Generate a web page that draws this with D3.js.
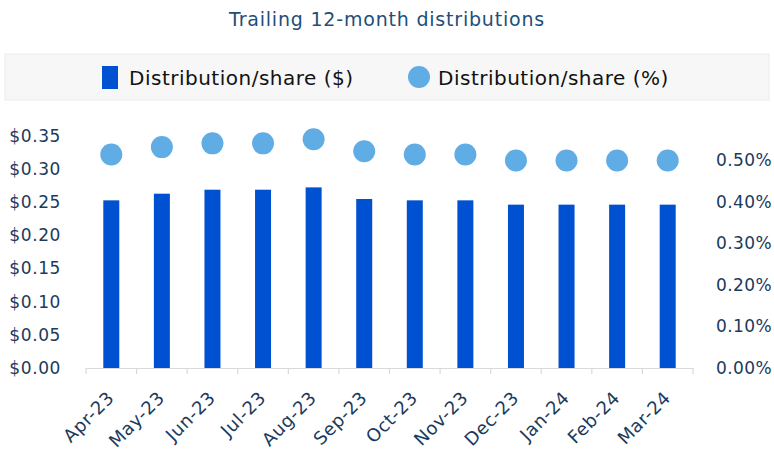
<!DOCTYPE html>
<html>
<head>
<meta charset="utf-8">
<script src="https://cdn.jsdelivr.net/npm/d3@7"></script>
<style>
  html, body { margin: 0; padding: 0; background: #fff; }
  svg { display: block; font-family: "DejaVu Sans", "Noto Sans", sans-serif; }
</style>
</head>
<body>
<svg id="chart" width="774" height="450"></svg>
<script>
// Trailing 12-month distributions per share
const months = ["Apr-23","May-23","Jun-23","Jul-23","Aug-23","Sep-23","Oct-23","Nov-23","Dec-23","Jan-24","Feb-24","Mar-24"];
const distDollar = [0.2525, 0.2625, 0.2685, 0.2685, 0.2720, 0.2545, 0.2525, 0.2525, 0.2460, 0.2460, 0.2460, 0.2460];
const distPct = [0.513, 0.531, 0.540, 0.540, 0.550, 0.521, 0.513, 0.513, 0.499, 0.499, 0.499, 0.499];
const leftTicks = [0, 0.05, 0.10, 0.15, 0.20, 0.25, 0.30, 0.35];
const rightTicks = [0, 0.1, 0.2, 0.3, 0.4, 0.5];
const seriesNames = ["Distribution/share ($)", "Distribution/share (%)"];

const barColor = "#0050D2";
const dotColor = "#60ACE4";
const axisText = "#1B3A5C";
const font = "\"DejaVu Sans\", sans-serif";

const svg = d3.select("#chart");

const plotLeft = 86, plotRight = 693, baseY = 368;

const x = d3.scaleBand().domain(months).range([plotLeft, plotRight]).padding(0);
const yL = d3.scaleLinear().domain([0, 0.35]).range([baseY, 135.6]);
const yR = d3.scaleLinear().domain([0, 0.5]).range([baseY, 160]);

// Title
svg.append("text")
  .attr("x", 387).attr("y", 26)
  .attr("text-anchor", "middle")
  .attr("font-size", 19)
  .attr("letter-spacing", 0.8)
  .attr("fill", "#1F4E79")
  .text("Trailing 12-month distributions");

// Legend panel
svg.append("rect")
  .attr("x", 5).attr("y", 54).attr("width", 764).attr("height", 46)
  .attr("fill", "#F7F7F7").attr("stroke", "#EBEBEB");
svg.append("rect")
  .attr("x", 102).attr("y", 66).attr("width", 16).attr("height", 23)
  .attr("fill", barColor);
svg.append("text")
  .attr("x", 129).attr("y", 85).attr("font-size", 20).attr("letter-spacing", 0.5)
  .attr("fill", "#111")
  .text(seriesNames[0]);
svg.append("circle")
  .attr("cx", 419).attr("cy", 77).attr("r", 11)
  .attr("fill", dotColor);
svg.append("text")
  .attr("x", 438).attr("y", 85).attr("font-size", 20).attr("letter-spacing", 0.5)
  .attr("fill", "#111")
  .text(seriesNames[1]);

// Left axis ($)
const leftAxis = d3.axisLeft(yL).tickValues(leftTicks)
  .tickFormat(d => "$" + d3.format(".2f")(d)).tickSize(0).tickPadding(0);
const gL = svg.append("g").attr("transform", "translate(61,0)").call(leftAxis);
gL.select(".domain").remove();
gL.selectAll("text").attr("font-size", 17).attr("letter-spacing", 0.6)
  .attr("fill", axisText).attr("font-family", font);

// Right axis (%)
const rightAxis = d3.axisRight(yR).tickValues(rightTicks)
  .tickFormat(d => d3.format(".2f")(d) + "%").tickSize(0).tickPadding(0);
const gR = svg.append("g").attr("transform", "translate(716,0)").call(rightAxis);
gR.select(".domain").remove();
gR.selectAll("text").attr("font-size", 17).attr("letter-spacing", 0.4)
  .attr("fill", axisText).attr("font-family", font);

// Bars
const barW = 16;
svg.append("g").selectAll("rect")
  .data(months)
  .join("rect")
  .attr("x", (d) => x(d) + x.bandwidth() / 2 - barW / 2)
  .attr("y", (d, i) => yL(distDollar[i]))
  .attr("width", barW)
  .attr("height", (d, i) => baseY - yL(distDollar[i]))
  .attr("fill", barColor);

// Dots
svg.append("g").selectAll("circle")
  .data(months)
  .join("circle")
  .attr("cx", d => x(d) + x.bandwidth() / 2)
  .attr("cy", (d, i) => yR(distPct[i]))
  .attr("r", 11)
  .attr("fill", dotColor);

// Category axis
const xAxis = d3.axisBottom(x).tickSize(0).tickPadding(0);
const gX = svg.append("g").attr("transform", `translate(0,${baseY})`).call(xAxis);
gX.select(".domain").attr("stroke", "#D9D9D9").attr("stroke-width", 1.2);
// tick marks at category boundaries
const bounds = months.map(m => x(m)).concat([plotRight]);
svg.append("g").selectAll("line")
  .data(bounds)
  .join("line")
  .attr("x1", d => d).attr("x2", d => d)
  .attr("y1", baseY).attr("y2", baseY + 6)
  .attr("stroke", "#D9D9D9").attr("stroke-width", 1.2);
gX.selectAll("text")
  .attr("font-size", 18).attr("letter-spacing", 0.6)
  .attr("fill", axisText)
  .attr("font-family", font)
  .attr("text-anchor", "end")
  .attr("dy", "0")
  .attr("transform", "translate(4,31) rotate(-45)");
</script>
</body>
</html>
